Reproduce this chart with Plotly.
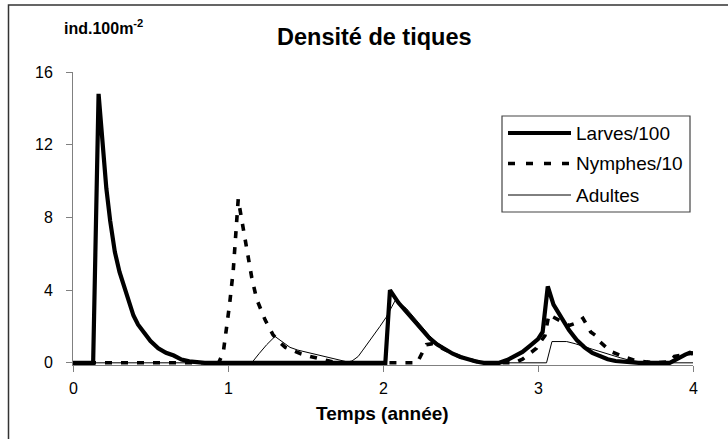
import plotly.graph_objects as go

# ---------------- data ----------------
x_larves = [0, 0.13, 0.165, 0.19, 0.215, 0.24, 0.27, 0.30, 0.33, 0.36, 0.39, 0.42, 0.46, 0.50,
            0.55, 0.60, 0.65, 0.70, 0.75, 0.80, 0.85,
            2.015, 2.045, 2.10, 2.15, 2.20, 2.25, 2.30, 2.35, 2.40, 2.45, 2.50, 2.55, 2.60, 2.65,
            2.75, 2.80, 2.85, 2.90, 2.95, 3.00, 3.03, 3.063, 3.10, 3.15, 3.20, 3.25, 3.30, 3.35,
            3.40, 3.45, 3.50, 3.60, 3.65, 3.85, 3.90, 3.95, 3.98, 4.0]
y_larves = [0, 0, 14.8, 12.0, 9.6, 7.8, 6.1, 5.0, 4.2, 3.4, 2.6, 2.1, 1.6, 1.2,
            0.8, 0.55, 0.4, 0.18, 0.08, 0.02, 0,
            0, 4.0, 3.3, 2.8, 2.3, 1.8, 1.35, 1.0, 0.75, 0.5, 0.32, 0.18, 0.07, 0,
            0, 0.15, 0.35, 0.6, 0.95, 1.3, 1.7, 4.2, 3.2, 2.5, 1.8, 1.25, 0.85, 0.55,
            0.35, 0.2, 0.1, 0.03, 0, 0, 0.25, 0.45, 0.55, 0.5]

x_nymphes = [0, 0.94, 0.97, 0.99, 1.01, 1.034, 1.056, 1.066, 1.088, 1.12, 1.153, 1.185, 1.24,
             1.29, 1.33, 1.37, 1.42, 1.47, 1.53, 1.60, 1.66, 1.72,
             2.22, 2.28, 2.32, 2.36, 2.40, 2.45, 2.50, 2.55, 2.60, 2.66,
             2.85, 2.90, 2.95, 2.99, 3.02, 3.045, 3.07, 3.10, 3.14, 3.20, 3.25, 3.29, 3.32,
             3.34, 3.38, 3.40, 3.44, 3.47, 3.55, 3.62, 3.70, 3.75, 3.85, 3.88, 3.93, 3.97, 4.0]
y_nymphes = [0, 0, 0.6, 1.8, 3.2, 5.1, 7.7, 9.0, 7.9, 6.2, 4.7, 3.5, 2.35,
             1.55, 1.15, 0.85, 0.65, 0.5, 0.35, 0.2, 0.08, 0,
             0, 1.0, 1.05, 0.9, 0.7, 0.5, 0.32, 0.18, 0.08, 0,
             0, 0.2, 0.5, 0.8, 1.2, 1.5, 2.65, 2.5, 2.3, 2.05, 2.2, 2.45, 2.0,
             1.7, 1.45, 1.15, 0.85, 0.62, 0.35, 0.15, 0.05, 0, 0.05, 0.35, 0.42, 0.5, 0.55]

x_adultes = [0, 1.153, 1.20, 1.25, 1.303, 1.35, 1.40, 1.45, 1.50, 1.55, 1.60, 1.64, 1.70, 1.77,
             1.80, 1.84, 1.87, 1.92, 1.98, 2.02, 2.08, 2.15, 2.20, 2.25, 2.30, 2.35, 2.40, 2.45,
             2.50, 2.55, 2.60, 2.65, 3.055, 3.09, 3.185, 3.24, 3.29, 3.35, 3.40, 3.465, 3.53,
             3.60, 3.70, 4.0]
y_adultes = [0, 0, 0.5, 1.0, 1.45, 1.15, 0.85, 0.7, 0.6, 0.5, 0.42, 0.35, 0.2, 0.05,
             0.1, 0.35, 0.7, 1.26, 2.0, 2.5, 3.45, 3.0, 2.5, 2.0, 1.5, 1.1, 0.8, 0.55,
             0.35, 0.2, 0.08, 0, 0, 1.17, 1.17, 1.05, 0.9, 0.75, 0.62, 0.44, 0.28,
             0.12, 0, 0]

series_names = ["Larves/100", "Nymphes/10", "Adultes"]
x_ticks = [0, 1, 2, 3, 4]
y_ticks = [0, 4, 8, 12, 16]

title_text = "Densité de tiques"
unit_text = "ind.100m<sup>-2</sup>"
x_title = "Temps (année)"

FONT = "Liberation Sans, Arial, sans-serif"
AXIS_GREY = "#808080"

# ---------------- geometry (pixels) ----------------
W, H = 728, 439
L, R, T, B = 73, 693, 72, 365


def px(xp):
    return (xp - L) / (R - L)


def py(yp):
    return (B - yp) / (B - T)


fig = go.Figure()
fig.add_trace(go.Scatter(x=x_larves, y=y_larves, mode="lines", name=series_names[0],
                         line=dict(color="black", width=4.2), showlegend=False))
fig.add_trace(go.Scatter(x=x_nymphes, y=y_nymphes, mode="lines", name=series_names[1],
                         line=dict(color="black", width=3.6, dash="7px,9px"), showlegend=False))
fig.add_trace(go.Scatter(x=x_adultes, y=y_adultes, mode="lines", name=series_names[2],
                         line=dict(color="black", width=1), showlegend=False))

shapes = []
# outer frame
shapes.append(dict(type="rect", xref="paper", yref="paper",
                   x0=px(8.5), x1=px(800), y0=py(500), y1=py(5),
                   line=dict(color="#333333", width=1.5), fillcolor="rgba(0,0,0,0)", layer="below"))
# legend box
shapes.append(dict(type="rect", xref="paper", yref="paper",
                   x0=px(502), x1=px(690), y0=py(212), y1=py(116),
                   line=dict(color="#444444", width=1.2), fillcolor="white", layer="above"))
legend_rows = [133, 163.5, 195]
legend_styles = [dict(color="black", width=4.2),
                 dict(color="black", width=3.6, dash="7px,11px"),
                 dict(color="black", width=1)]
annotations = []
for name, yr, st in zip(series_names, legend_rows, legend_styles):
    shapes.append(dict(type="line", xref="paper", yref="paper",
                       x0=px(508), x1=px(571), y0=py(yr), y1=py(yr), line=st, layer="above"))
    annotations.append(dict(text=name, xref="paper", yref="paper", x=px(574), y=py(yr),
                            xanchor="left", yanchor="middle", showarrow=False,
                            font=dict(family=FONT, size=19, color="black")))

# tick labels placed as in the reference (a little farther from the axes than plotly's default)
for v in x_ticks:
    annotations.append(dict(text=str(v), xref="x", yref="paper", x=v, y=py(389),
                            xanchor="center", yanchor="middle", showarrow=False,
                            font=dict(family=FONT, size=16, color="black")))
for v in y_ticks:
    annotations.append(dict(text=str(v), xref="paper", yref="y", x=px(54.5), y=v,
                            xanchor="right", yanchor="middle", showarrow=False,
                            font=dict(family=FONT, size=16, color="black")))

annotations.append(dict(text="<b>" + title_text + "</b>", xref="paper", yref="paper",
                        x=px(374), y=py(37), xanchor="center", yanchor="middle", showarrow=False,
                        font=dict(family=FONT, size=23.5, color="black")))
annotations.append(dict(text="<b>" + unit_text + "</b>", xref="paper", yref="paper",
                        x=px(62), y=py(27), xanchor="left", yanchor="middle", showarrow=False,
                        font=dict(family=FONT, size=16, color="black")))
annotations.append(dict(text="<b>" + x_title + "</b>", xref="paper", yref="paper",
                        x=px(382), y=py(413), xanchor="center", yanchor="middle", showarrow=False,
                        font=dict(family=FONT, size=19, color="black")))

fig.update_layout(
    width=W, height=H,
    margin=dict(l=L, r=W - R, t=T, b=H - B, pad=0),
    paper_bgcolor="white", plot_bgcolor="white",
    showlegend=False,
    shapes=shapes, annotations=annotations,
    font=dict(family=FONT, size=16, color="black"),
)
fig.update_xaxes(range=[0, 4], tickvals=x_ticks, showticklabels=False,
                 showgrid=False, zeroline=False, showline=True, linecolor=AXIS_GREY, linewidth=1,
                 ticks="outside", ticklen=6, tickcolor=AXIS_GREY, tickwidth=1)
fig.update_yaxes(range=[-0.12, 16], tickvals=y_ticks, showticklabels=False,
                 showgrid=False, zeroline=False, showline=True, linecolor=AXIS_GREY, linewidth=1,
                 ticks="outside", ticklen=6, tickcolor=AXIS_GREY, tickwidth=1)

fig.write_html("out.html")
